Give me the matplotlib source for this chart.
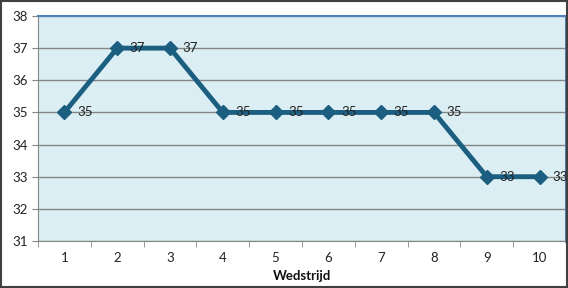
import matplotlib
matplotlib.use("Agg")
from matplotlib import pyplot as plt
import numpy as np

# gegevens
wedstrijden = [1, 2, 3, 4, 5, 6, 7, 8, 9, 10]
waarden = [35, 37, 37, 35, 35, 35, 35, 35, 33, 33]
y_ticks = [31, 32, 33, 34, 35, 36, 37, 38]

plt.rcParams['font.family'] = ['Lato', 'DejaVu Sans']

fig = plt.figure(figsize=(5.68, 2.88), dpi=100)
ax = fig.add_axes([38/568, 1 - 241/288, (566-38)/568, (241-16)/288])

lijn = "#1B5E80"
ax.set_facecolor("#DAEEF3")
ax.plot(wedstrijden, waarden, color=lijn, linewidth=3.5, marker="D", markersize=7.5,
        zorder=3, clip_on=False)
for x, y in zip(wedstrijden, waarden):
    ax.annotate(str(y), (x, y), xytext=(9, 0), textcoords="offset points",
                va="center", ha="left", fontsize=9.5, color="#222222", zorder=4)

ax.set_xlim(0.5, 10.5)
ax.set_ylim(31, 38)
ax.set_yticks(y_ticks)
ax.set_xticks(wedstrijden)
ax.set_xticks(np.arange(0.5, 11, 1), minor=True)
ax.tick_params(axis="x", which="major", length=0, labelsize=9.5, pad=8, colors="#222222")
ax.tick_params(axis="x", which="minor", length=4, color="#868686")
ax.tick_params(axis="y", length=4, labelsize=9.5, color="#868686", labelcolor="#222222")
ax.grid(axis="y", color="#868686", linewidth=1)
ax.set_axisbelow(True)

ax.spines["left"].set_color("#868686")
ax.spines["bottom"].set_color("#868686")
ax.spines["top"].set_color("#4F81BD")
ax.spines["right"].set_color("#3D6FA8")
ax.spines["top"].set_linewidth(1.5)
ax.spines["right"].set_linewidth(2)

ax.set_xlabel("Wedstrijd", fontsize=9.5, fontweight="bold", labelpad=0, color="#111111")
ax.xaxis.set_label_coords((302-38)/528, -(270-241)/225)

# rand om de figuur
fig.patches.append(plt.Rectangle((0.002, 0.003), 0.996, 0.994, transform=fig.transFigure,
                                 fill=False, edgecolor="#404040", linewidth=1.5))

fig.savefig("out.png", dpi=100)
